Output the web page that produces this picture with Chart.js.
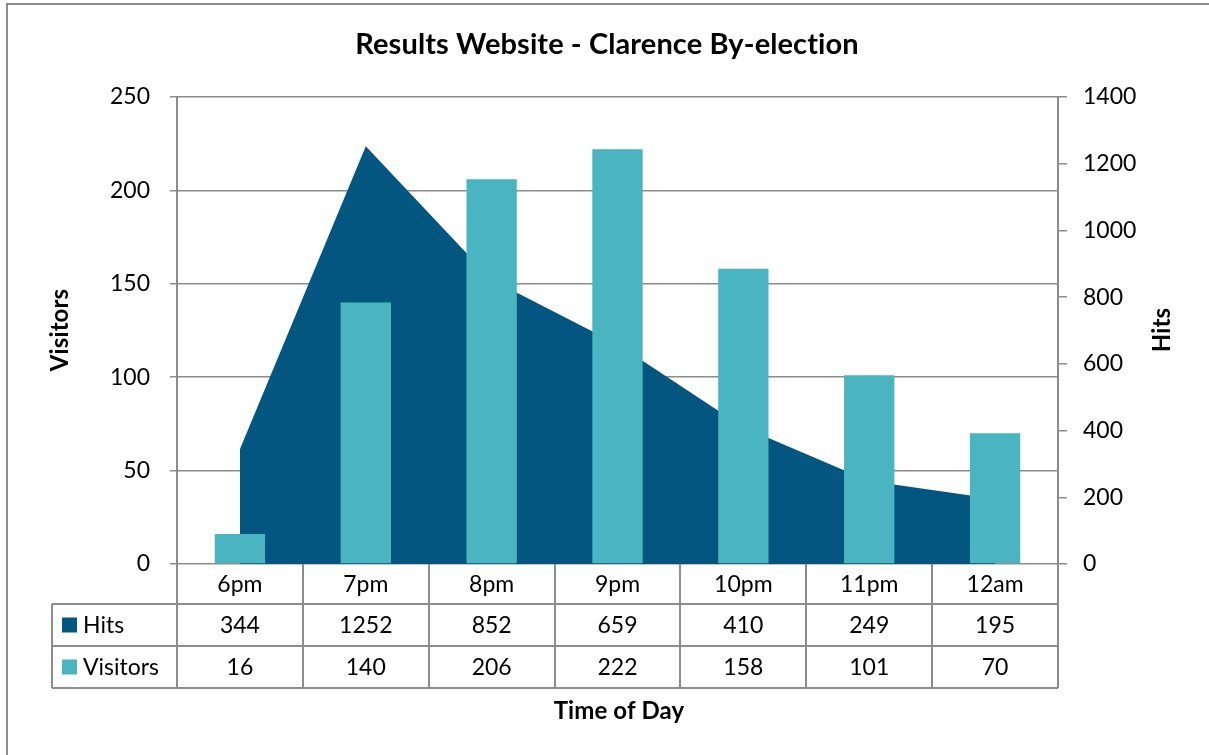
<!DOCTYPE html>
<html>
<head>
<meta charset="utf-8">
<script src="https://cdn.jsdelivr.net/npm/chart.js@4"></script>
<style>
  html, body { margin: 0; padding: 0; background: #fff; }
  #wrap { width: 1209px; height: 755px; }
</style>
</head>
<body>
<div id="wrap"><canvas id="c" width="1209" height="755"></canvas></div>
<script>
const categories = ['6pm', '7pm', '8pm', '9pm', '10pm', '11pm', '12am'];
const hits = [344, 1252, 852, 659, 410, 249, 195];
const visitors = [16, 140, 206, 222, 158, 101, 70];
const chartTitle = 'Results Website - Clarence By-election';
const xTitle = 'Time of Day';
const yLeftTitle = 'Visitors';
const yRightTitle = 'Hits';

const FONT = 'Lato, "Open Sans", sans-serif';
const HITS_COLOR = '#03567f';
const VIS_COLOR = '#4ab5c0';
const LINE_GRAY = '#8c8c8c';
const TEXT_SIZE = 23;

const decorPlugin = {
  id: 'decor',
  beforeDraw(chart) {
    const ctx = chart.ctx;
    ctx.save();
    ctx.strokeStyle = LINE_GRAY;
    ctx.lineWidth = 2;
    ctx.beginPath();
    ctx.moveTo(7, 755);
    ctx.lineTo(7, 4);
    ctx.lineTo(1209, 4);
    ctx.stroke();
    ctx.restore();
  },
  afterDraw(chart) {
    const ctx = chart.ctx;
    const area = chart.chartArea;
    const xs = chart.scales.x;
    const n = categories.length;
    const colW = (area.right - area.left) / n;
    const tableLeft = 52;
    const rowTops = [area.bottom, area.bottom + 40, area.bottom + 82, area.bottom + 124];

    ctx.save();
    // titles
    ctx.fillStyle = '#000';
    ctx.textAlign = 'center';
    ctx.textBaseline = 'middle';
    if ('letterSpacing' in ctx) ctx.letterSpacing = '0.1px';
    ctx.font = 'bold 29px ' + FONT;
    ctx.fillText(chartTitle, 607, 45);
    ctx.font = 'bold 24px ' + FONT;
    ctx.fillText(xTitle, 619, 711);
    ctx.save();
    ctx.translate(60, 330);
    ctx.rotate(-Math.PI / 2);
    ctx.fillText(yLeftTitle, 0, 0);
    ctx.restore();
    ctx.save();
    ctx.translate(1162, 330);
    ctx.rotate(-Math.PI / 2);
    ctx.fillText(yRightTitle, 0, 0);
    ctx.restore();
    if ('letterSpacing' in ctx) ctx.letterSpacing = '0px';

    // table grid
    ctx.strokeStyle = LINE_GRAY;
    ctx.lineWidth = 2;
    ctx.beginPath();
    for (let i = 0; i <= n; i++) {
      const x = Math.round(area.left + i * colW);
      ctx.moveTo(x, rowTops[0]);
      ctx.lineTo(x, rowTops[3]);
    }
    for (let r = 1; r <= 3; r++) {
      ctx.moveTo(tableLeft, rowTops[r]);
      ctx.lineTo(area.right, rowTops[r]);
    }
    ctx.moveTo(tableLeft, rowTops[1]);
    ctx.lineTo(tableLeft, rowTops[3]);
    ctx.stroke();

    // table text
    ctx.font = TEXT_SIZE + 'px ' + FONT;
    ctx.fillStyle = '#000';
    ctx.textAlign = 'center';
    for (let i = 0; i < n; i++) {
      const cx = xs.getPixelForValue(i);
      ctx.fillText(categories[i], cx, (rowTops[0] + rowTops[1]) / 2 + 1);
      ctx.fillText(String(hits[i]), cx, (rowTops[1] + rowTops[2]) / 2 + 1);
      ctx.fillText(String(visitors[i]), cx, (rowTops[2] + rowTops[3]) / 2 + 1);
    }
    // legend keys
    const rows = [
      { label: chart.data.datasets[1].label, color: HITS_COLOR, top: rowTops[1], bottom: rowTops[2] },
      { label: chart.data.datasets[0].label, color: VIS_COLOR, top: rowTops[2], bottom: rowTops[3] }
    ];
    ctx.textAlign = 'left';
    rows.forEach(r => {
      const cy = (r.top + r.bottom) / 2;
      ctx.fillStyle = r.color;
      ctx.fillRect(62, cy - 7.5, 15, 15);
      ctx.fillStyle = '#000';
      ctx.fillText(r.label, 83, cy + 1);
    });
    ctx.restore();
  }
};

function build() {
  new Chart(document.getElementById('c'), {
    type: 'bar',
    data: {
      labels: categories,
      datasets: [
        {
          type: 'bar',
          label: 'Visitors',
          data: visitors,
          yAxisID: 'y',
          backgroundColor: VIS_COLOR,
          borderWidth: 0,
          barPercentage: 0.4,
          categoryPercentage: 1.0,
          order: 0
        },
        {
          type: 'line',
          label: 'Hits',
          data: hits,
          yAxisID: 'y1',
          backgroundColor: HITS_COLOR,
          borderColor: HITS_COLOR,
          borderWidth: 0,
          pointRadius: 0,
          tension: 0,
          fill: 'origin',
          order: 1
        }
      ]
    },
    options: {
      responsive: false,
      animation: false,
      layout: { padding: { top: 97, bottom: 191, left: 0, right: 0 } },
      plugins: {
        legend: { display: false },
        title: { display: false },
        tooltip: { enabled: false }
      },
      scales: {
        x: {
          type: 'category',
          display: false,
          offset: true
        },
        y: {
          position: 'left',
          min: 0,
          max: 250,
          ticks: { stepSize: 50, padding: 20, color: '#000', font: { family: FONT, size: TEXT_SIZE } },
          grid: { color: LINE_GRAY, lineWidth: 1.5, tickLength: 7, drawTicks: true },
          border: { display: true, color: LINE_GRAY, width: 2 },
          afterFit(scale) { scale.width = 177; }
        },
        y1: {
          position: 'right',
          min: 0,
          max: 1400,
          ticks: {
            stepSize: 200, padding: 16, color: '#000', font: { family: FONT, size: TEXT_SIZE },
            callback: v => String(v)
          },
          grid: { drawOnChartArea: false, color: LINE_GRAY, lineWidth: 1.5, tickLength: 9, drawTicks: true },
          border: { display: true, color: LINE_GRAY, width: 2 },
          afterFit(scale) { scale.width = 151; }
        }
      }
    },
    plugins: [decorPlugin]
  });
}

if (document.fonts && document.fonts.load) {
  Promise.all([
    document.fonts.load('23px Lato'),
    document.fonts.load('bold 29px Lato')
  ]).then(build, build);
} else {
  build();
}
</script>
</body>
</html>
